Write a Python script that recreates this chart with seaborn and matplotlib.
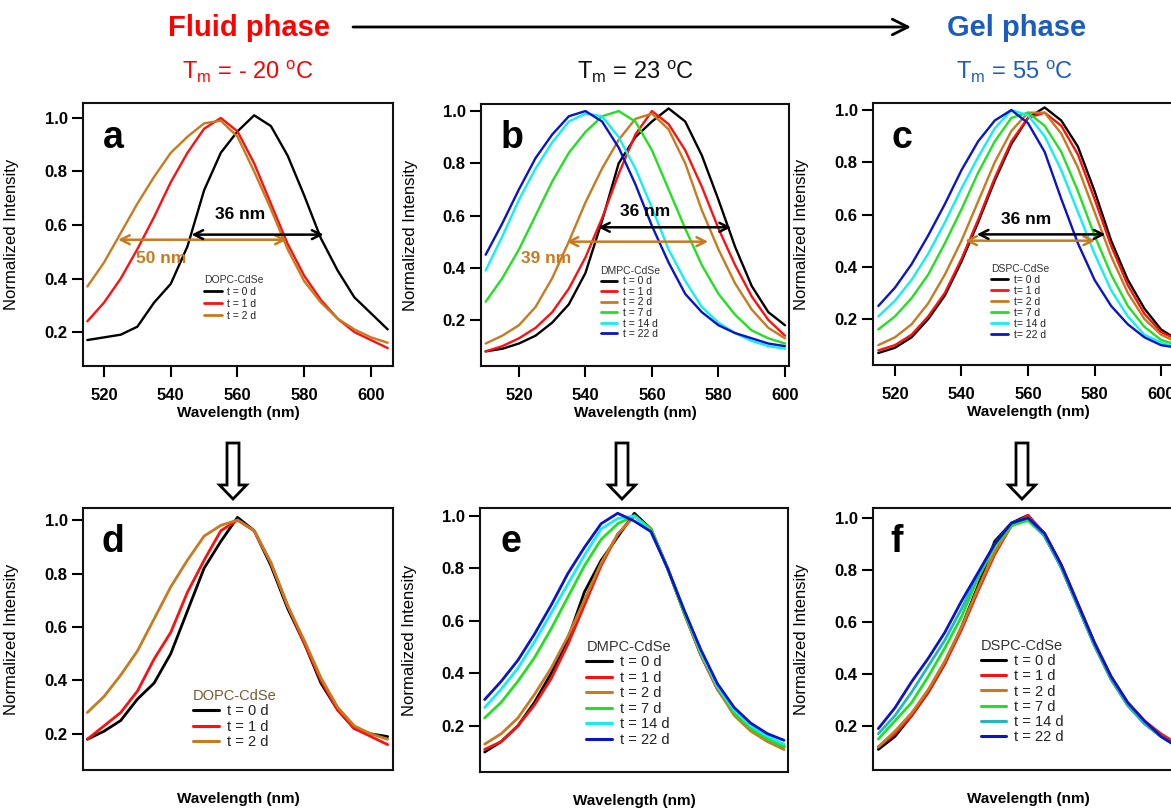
import numpy as np
import pandas as pd
import matplotlib
matplotlib.use("Agg")
import matplotlib.pyplot as plt
import seaborn as sns
from matplotlib.patches import Polygon

sns.set_style("ticks")
plt.rcParams["font.family"] = ["Liberation Sans", "DejaVu Sans"]
plt.rcParams["mathtext.fontset"] = "custom"
plt.rcParams["mathtext.rm"] = "Liberation Sans"
plt.rcParams["mathtext.it"] = "Liberation Sans:italic"
plt.rcParams["mathtext.bf"] = "Liberation Sans:bold"
for k in ["text.color", "axes.labelcolor", "xtick.color", "ytick.color"]:
    plt.rcParams[k] = "black"

# ---------------- data ----------------
wl_515 = [515, 520, 525, 530, 535, 540, 545, 550, 555, 560, 565, 570, 575, 580, 585, 590, 595, 600, 605]
wl_510 = [510, 515, 520, 525, 530, 535, 540, 545, 550, 555, 560, 565, 570, 575, 580, 585, 590, 595, 600]

# panel a: DOPC-CdSe
a_t0 = [0.17, 0.18, 0.19, 0.22, 0.31, 0.38, 0.52, 0.73, 0.87, 0.95, 1.01, 0.97, 0.86, 0.71, 0.55, 0.43, 0.33, 0.27, 0.21]
a_t1 = [0.24, 0.31, 0.40, 0.51, 0.63, 0.76, 0.87, 0.96, 1.00, 0.95, 0.83, 0.68, 0.53, 0.41, 0.32, 0.25, 0.20, 0.17, 0.14]
a_t2 = [0.37, 0.46, 0.57, 0.68, 0.78, 0.87, 0.93, 0.98, 0.99, 0.93, 0.80, 0.66, 0.51, 0.39, 0.31, 0.25, 0.21, 0.18, 0.16]
# panel b: DMPC-CdSe
b_t0 = [0.08, 0.09, 0.11, 0.14, 0.19, 0.26, 0.38, 0.58, 0.80, 0.90, 0.96, 1.01, 0.96, 0.83, 0.66, 0.48, 0.33, 0.23, 0.18]
b_t1 = [0.08, 0.10, 0.13, 0.17, 0.23, 0.32, 0.44, 0.59, 0.76, 0.91, 1.00, 0.95, 0.85, 0.71, 0.55, 0.41, 0.29, 0.20, 0.14]
b_t2 = [0.11, 0.14, 0.18, 0.25, 0.36, 0.50, 0.65, 0.78, 0.89, 0.97, 0.99, 0.93, 0.80, 0.62, 0.47, 0.34, 0.24, 0.17, 0.13]
b_t7 = [0.27, 0.36, 0.47, 0.60, 0.73, 0.84, 0.92, 0.98, 1.00, 0.96, 0.85, 0.70, 0.55, 0.41, 0.30, 0.22, 0.16, 0.13, 0.11]
b_t14 = [0.39, 0.52, 0.66, 0.78, 0.88, 0.96, 0.99, 0.98, 0.90, 0.78, 0.63, 0.47, 0.35, 0.25, 0.19, 0.15, 0.12, 0.10, 0.09]
b_t22 = [0.45, 0.57, 0.70, 0.82, 0.91, 0.98, 1.00, 0.96, 0.86, 0.72, 0.56, 0.42, 0.30, 0.23, 0.18, 0.15, 0.13, 0.11, 0.10]
# panel c: DSPC-CdSe
c_t0 = [0.07, 0.09, 0.13, 0.20, 0.29, 0.42, 0.57, 0.73, 0.87, 0.97, 1.01, 0.96, 0.86, 0.69, 0.50, 0.35, 0.24, 0.16, 0.12]
c_t1 = [0.08, 0.10, 0.14, 0.21, 0.30, 0.43, 0.58, 0.74, 0.88, 0.97, 0.99, 0.94, 0.83, 0.66, 0.48, 0.33, 0.22, 0.15, 0.12]
c_t2 = [0.10, 0.13, 0.18, 0.26, 0.37, 0.50, 0.65, 0.80, 0.92, 0.99, 0.99, 0.91, 0.78, 0.61, 0.44, 0.30, 0.20, 0.14, 0.11]
c_t7 = [0.16, 0.21, 0.28, 0.37, 0.49, 0.62, 0.76, 0.88, 0.97, 0.99, 0.94, 0.84, 0.69, 0.52, 0.37, 0.25, 0.17, 0.12, 0.10]
c_t14 = [0.21, 0.27, 0.35, 0.45, 0.57, 0.70, 0.82, 0.93, 1.00, 0.98, 0.90, 0.77, 0.61, 0.45, 0.31, 0.21, 0.14, 0.11, 0.09]
c_t22 = [0.25, 0.32, 0.41, 0.52, 0.64, 0.77, 0.88, 0.96, 1.00, 0.95, 0.84, 0.66, 0.49, 0.35, 0.25, 0.18, 0.13, 0.10, 0.09]
# panel d: DOPC-CdSe (aligned)
d_t0 = [0.18, 0.21, 0.25, 0.33, 0.39, 0.50, 0.66, 0.82, 0.92, 1.01, 0.96, 0.83, 0.67, 0.54, 0.39, 0.29, 0.22, 0.20, 0.19]
d_t1 = [0.18, 0.23, 0.28, 0.36, 0.48, 0.58, 0.73, 0.85, 0.96, 1.00, 0.96, 0.84, 0.68, 0.54, 0.40, 0.29, 0.22, 0.19, 0.16]
d_t2 = [0.28, 0.34, 0.42, 0.51, 0.63, 0.75, 0.85, 0.94, 0.98, 1.00, 0.96, 0.84, 0.68, 0.55, 0.41, 0.30, 0.23, 0.20, 0.18]
# panel e: DMPC-CdSe (aligned)
e_t0 = [0.10, 0.14, 0.20, 0.29, 0.40, 0.53, 0.71, 0.83, 0.92, 1.01, 0.95, 0.80, 0.63, 0.47, 0.34, 0.25, 0.19, 0.15, 0.12]
e_t1 = [0.11, 0.14, 0.20, 0.28, 0.38, 0.51, 0.66, 0.81, 0.93, 1.00, 0.95, 0.80, 0.63, 0.47, 0.34, 0.25, 0.19, 0.15, 0.12]
e_t2 = [0.13, 0.17, 0.23, 0.32, 0.42, 0.54, 0.68, 0.82, 0.93, 1.00, 0.95, 0.80, 0.63, 0.47, 0.34, 0.24, 0.18, 0.14, 0.11]
e_t7 = [0.23, 0.29, 0.37, 0.46, 0.57, 0.69, 0.81, 0.91, 0.97, 1.00, 0.95, 0.80, 0.63, 0.48, 0.35, 0.25, 0.19, 0.15, 0.12]
e_t14 = [0.27, 0.34, 0.42, 0.52, 0.63, 0.74, 0.85, 0.95, 0.99, 1.00, 0.94, 0.80, 0.64, 0.48, 0.35, 0.26, 0.20, 0.16, 0.13]
e_t22 = [0.30, 0.37, 0.45, 0.55, 0.66, 0.78, 0.88, 0.97, 1.01, 0.98, 0.94, 0.80, 0.64, 0.49, 0.36, 0.27, 0.21, 0.17, 0.145]
# panel f: DSPC-CdSe (aligned)
f_t0 = [0.11, 0.16, 0.24, 0.33, 0.44, 0.58, 0.74, 0.91, 0.98, 1.01, 0.93, 0.81, 0.66, 0.51, 0.38, 0.28, 0.21, 0.16, 0.12]
f_t1 = [0.12, 0.17, 0.24, 0.33, 0.44, 0.57, 0.72, 0.86, 0.97, 1.01, 0.94, 0.82, 0.67, 0.52, 0.39, 0.29, 0.22, 0.17, 0.13]
f_t2 = [0.12, 0.18, 0.25, 0.34, 0.45, 0.58, 0.73, 0.87, 0.97, 1.00, 0.93, 0.81, 0.66, 0.51, 0.38, 0.28, 0.21, 0.16, 0.12]
f_t7 = [0.15, 0.22, 0.29, 0.39, 0.50, 0.62, 0.77, 0.89, 0.97, 0.99, 0.93, 0.81, 0.66, 0.51, 0.38, 0.28, 0.21, 0.16, 0.12]
f_t14 = [0.17, 0.24, 0.33, 0.43, 0.53, 0.65, 0.78, 0.90, 0.98, 1.00, 0.93, 0.81, 0.66, 0.51, 0.38, 0.28, 0.21, 0.16, 0.12]
f_t22 = [0.19, 0.27, 0.37, 0.46, 0.56, 0.68, 0.79, 0.90, 0.98, 1.00, 0.94, 0.82, 0.67, 0.52, 0.39, 0.29, 0.22, 0.16, 0.12]

labels_3 = ["t = 0 d", "t = 1 d", "t = 2 d"]
labels_6 = ["t = 0 d", "t = 1 d", "t = 2 d", "t = 7 d", "t = 14 d", "t = 22 d"]
labels_6c = ["t= 0 d", "t= 1 d", "t= 2 d", "t= 7 d", "t= 14 d", "t= 22 d"]
yticks = [0.2, 0.4, 0.6, 0.8, 1.0]
xticks = [520, 540, 560, 580, 600]

# FWHM annotations: (x_start, x_end, y) and label (x, y, text)
a_fwhm_black = (546.2, 585.8, 0.564); a_lab_black = (560.7, 0.64, "36 nm")
a_fwhm_orange = (524.2, 574.8, 0.545); a_lab_orange = (537.2, 0.474, "50 nm")
b_fwhm_black = (543.8, 583.8, 0.555); b_lab_black = (557.9, 0.615, "36 nm")
b_fwhm_orange = (534.3, 576.9, 0.500); b_lab_orange = (528.2, 0.436, "39 nm")
c_fwhm_black = (544.6, 583.3, 0.524); c_lab_black = (559.5, 0.58, "36 nm")
c_fwhm_orange = (541.1, 580.2, 0.500)

# ---------------- styles ----------------
BLACK, RED, ORANGE = "#000000", "#ff1010", "#c87a1e"
GREEN, CYAN, TEAL, BLUE = "#22e022", "#10f0f0", "#20b8c0", "#0a14c8"
col3 = [BLACK, RED, ORANGE]
col6 = [BLACK, RED, ORANGE, GREEN, CYAN, BLUE]
col6f = [BLACK, RED, ORANGE, GREEN, TEAL, BLUE]

W, H = 1171, 809
fig = plt.figure(figsize=(W / 100, H / 100), dpi=100)


def px_rect(x0, y0, x1, y1):
    return [x0 / W, 1 - y1 / H, (x1 - x0) / W, (y1 - y0) / H]


panels = [
    dict(rect=px_rect(83, 103, 393, 366), wl=wl_515, curves=[a_t0, a_t1, a_t2], labels=labels_3, colors=col3,
         xlim=(513.7, 606.6), ylim=(0.073, 1.056), letter="a", lpos=(0.065, 0.83), title="DOPC-CdSe",
         leg=(0.39, 0.345), top=True, lfs=7.5, lsp=0.18, hl=1.7),
    dict(rect=px_rect(481, 104, 789, 366), wl=wl_510, curves=[b_t0, b_t1, b_t2, b_t7, b_t14, b_t22], labels=labels_6,
         colors=col6, xlim=(508.6, 601.2), ylim=(0.024, 1.027), letter="b", lpos=(0.062, 0.832), title="DMPC-CdSe",
         leg=(0.388, 0.382), top=True, lfs=7.5, lsp=0.05, hl=1.6),
    dict(rect=px_rect(873, 103, 1183, 365), wl=wl_515, curves=[c_t0, c_t1, c_t2, c_t7, c_t14, c_t22], labels=labels_6c,
         colors=col6, xlim=(513.4, 606.6), ylim=(0.024, 1.027), letter="c", lpos=(0.061, 0.828), title="DSPC-CdSe",
         leg=(0.382, 0.386), top=True, lfs=7.5, lsp=0.1, hl=1.6),
    dict(rect=px_rect(83, 508, 393, 770), wl=wl_515, curves=[d_t0, d_t1, d_t2], labels=labels_3, colors=col3,
         xlim=(513.7, 606.6), ylim=(0.065, 1.045), letter="d", lpos=(0.061, 0.832), title="DOPC-CdSe",
         leg=(0.355, 0.31), top=False, lfs=10.5, lsp=0.1, hl=1.75),
    dict(rect=px_rect(480, 508, 788, 772), wl=wl_510, curves=[e_t0, e_t1, e_t2, e_t7, e_t14, e_t22], labels=labels_6,
         colors=col6, xlim=(508.6, 601.2), ylim=(0.024, 1.03), letter="e", lpos=(0.065, 0.833), title="DMPC-CdSe",
         leg=(0.345, 0.50), top=False, lfs=10.5, lsp=0.1, hl=1.75),
    dict(rect=px_rect(873, 508, 1183, 770), wl=wl_515, curves=[f_t0, f_t1, f_t2, f_t7, f_t14, f_t22], labels=labels_6,
         colors=col6f, xlim=(513.4, 606.6), ylim=(0.031, 1.038), letter="f", lpos=(0.055, 0.832), title="DSPC-CdSe",
         leg=(0.348, 0.50), top=False, lfs=10.5, lsp=0.08, hl=1.75),
]

axes = []
for p in panels:
    ax = fig.add_axes(p["rect"])
    frames = [pd.DataFrame({"wl": p["wl"], "I": v, "t": lab}) for lab, v in zip(p["labels"], p["curves"])]
    df = pd.concat(frames, ignore_index=True)
    sns.lineplot(data=df, x="wl", y="I", hue="t", hue_order=p["labels"],
                 palette=dict(zip(p["labels"], p["colors"])), estimator=None, sort=False,
                 lw=1.7 if p["top"] else 2.0, ax=ax)
    ax.set_xlim(*p["xlim"])
    ax.set_ylim(*p["ylim"])
    ax.set_yticks(yticks)
    ax.set_yticklabels([f"{v:.1f}" for v in yticks], fontweight="bold", fontsize=12)
    ax.set_xticks(xticks)
    if p["top"]:
        ax.set_xticklabels([str(v) for v in xticks], fontweight="bold", fontsize=12)
        ax.tick_params(axis="x", length=8, width=1.5, pad=8)
        ax.set_xlabel("Wavelength (nm)", fontsize=11, fontweight="bold")
        ax.xaxis.set_label_coords(0.5, -0.18)
    else:
        ax.tick_params(axis="x", bottom=False, labelbottom=False)
        ax.set_xlabel("Wavelength (nm)", fontsize=11, fontweight="bold")
        ax.xaxis.set_label_coords(0.5, -0.11)
    ax.xaxis.label.set_va("center")
    ax.tick_params(axis="y", length=8, width=1.5, pad=3)
    ax.set_ylabel("Normalized Intensity", fontsize=12)
    ax.yaxis.set_label_coords(-0.205, 0.5)
    for s in ax.spines.values():
        s.set_visible(True)
        s.set_linewidth(1.5)
        s.set_color("#111111")
    ax.text(p["lpos"][0], p["lpos"][1], p["letter"], transform=ax.transAxes, fontsize=27,
            fontweight="bold", va="baseline", ha="left", color="black")
    sns.move_legend(ax, "upper left", bbox_to_anchor=p["leg"], frameon=False, title=p["title"],
                    fontsize=p["lfs"], title_fontsize=p["lfs"], handlelength=p["hl"], handletextpad=0.55,
                    labelspacing=p["lsp"], borderpad=0, borderaxespad=0, alignment="left")
    leg = ax.get_legend()
    for h in leg.legend_handles:
        h.set_linewidth(2.2 if not p["top"] else 2.0)
    for t in leg.texts:
        t.set_color("#222222")
    leg.get_title().set_color("#7a5a30" if p["letter"] == "d" else "#333333")
    axes.append(ax)

ax_a, ax_b, ax_c = axes[0], axes[1], axes[2]


def dbl_arrow(ax, seg, color):
    ax.annotate("", xy=(seg[1], seg[2]), xytext=(seg[0], seg[2]),
                arrowprops=dict(arrowstyle="<->", color=color, lw=1.8, mutation_scale=16,
                                shrinkA=0, shrinkB=0))


for ax, sb, so in [(ax_a, a_fwhm_black, a_fwhm_orange), (ax_b, b_fwhm_black, b_fwhm_orange),
                   (ax_c, c_fwhm_black, c_fwhm_orange)]:
    dbl_arrow(ax, so, ORANGE)
    dbl_arrow(ax, sb, BLACK)

for ax, lab, col in [(ax_a, a_lab_black, BLACK), (ax_a, a_lab_orange, ORANGE), (ax_b, b_lab_black, BLACK),
                     (ax_b, b_lab_orange, ORANGE), (ax_c, c_lab_black, BLACK)]:
    ax.text(lab[0], lab[1], lab[2], color=col, fontsize=12.5, fontweight="bold", ha="center", va="center")

# ---------------- overlay decorations ----------------
ov = fig.add_axes([0, 0, 1, 1], zorder=10)
ov.set_xlim(0, W)
ov.set_ylim(H, 0)
ov.axis("off")

ov.text(249, 28, "Fluid phase", color="#ff0000", fontsize=21, fontweight="bold", ha="center", va="center")
ov.text(1017, 28, "Gel phase", color="#1a5cc0", fontsize=21, fontweight="bold", ha="center", va="center")
ov.annotate("", xy=(911, 27), xytext=(353, 27),
            arrowprops=dict(arrowstyle="->", color="black", lw=2, mutation_scale=28, shrinkA=0, shrinkB=0))
ov.text(248, 72, r"T$_{\mathrm{m}}$ = - 20 $^{\mathrm{o}}$C", color="#ff0000", fontsize=17, ha="center", va="center")
ov.text(636, 72, r"T$_{\mathrm{m}}$ = 23 $^{\mathrm{o}}$C", color="#111111", fontsize=17, ha="center", va="center")
ov.text(1015, 72, r"T$_{\mathrm{m}}$ = 55 $^{\mathrm{o}}$C", color="#1a5cc0", fontsize=17, ha="center", va="center")

for cx in [233, 622, 1022]:
    pts = [(cx - 6, 443), (cx + 6, 443), (cx + 6, 485), (cx + 13.5, 485), (cx, 499),
           (cx - 13.5, 485), (cx - 6, 485)]
    ov.add_patch(Polygon(pts, closed=True, facecolor="white", edgecolor="black", lw=2))

fig.savefig("out.png", dpi=100)
